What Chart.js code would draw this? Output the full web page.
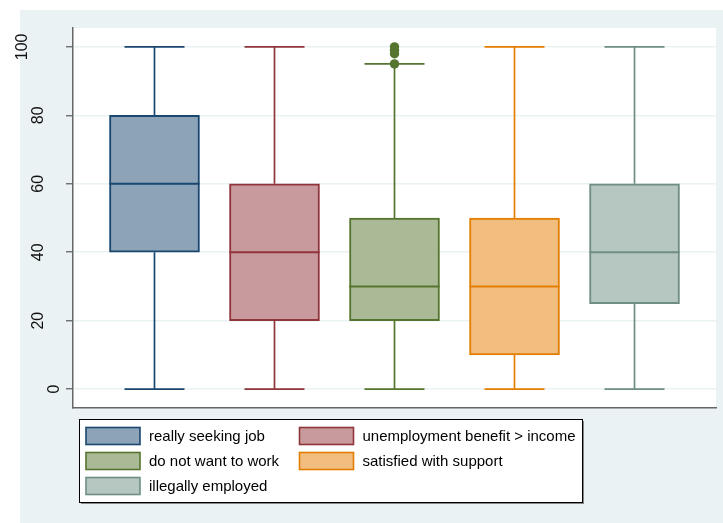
<!doctype html>
<html lang="en">
<head>
<meta charset="utf-8">
<title>Box plot</title>
<script src="https://cdn.jsdelivr.net/npm/chart.js@4"></script>
<style>
  body { margin: 0; background: #fff; }
</style>
</head>
<body>
<canvas id="myChart" width="723" height="523"></canvas>
<script>
// data
const groups = ['really seeking job', 'unemployment benefit > income', 'do not want to work',
                'satisfied with support', 'illegally employed'];
const mins = [0, 0, 0, 0, 0];
const q1s = [40, 20, 20, 10, 25];
const medians = [60, 40, 30, 30, 40];
const q3s = [80, 60, 50, 50, 60];
const maxs = [100, 100, 95, 100, 100];
const outliers = [[], [], [95, 98, 99, 100], [], []];
const yTicks = [0, 20, 40, 60, 80, 100];

const lineColors = ['#1A476F', '#90353B', '#55752F', '#E37E00', '#6E8E84'];
const fillColors = ['#8DA3B7', '#C89A9D', '#AABA97', '#F1BE80', '#B6C6C1'];
const FONT = '"Liberation Sans", Arial, sans-serif';

const datasets = groups.map(function(g, i) {
    return {
        type: 'bar',
        label: g,
        data: [{x: i + 1, y: [q1s[i], q3s[i]]}],
        backgroundColor: fillColors[i],
        borderColor: lineColors[i],
        borderWidth: 2,
        borderSkipped: false,
        barThickness: 90,
        grouped: false
    };
});
outliers.forEach(function(list, i) {
    if (!list.length) return;
    datasets.push({
        type: 'scatter',
        label: groups[i] + ' outliers',
        data: list.map(function(v) { return {x: i + 1, y: v}; }),
        backgroundColor: lineColors[i],
        borderWidth: 0,
        pointRadius: 4.7
    });
});

const stataPlugin = {
    id: 'stata',
    beforeDraw: function(chart) {
        const ctx = chart.ctx, a = chart.chartArea;
        ctx.save();
        ctx.fillStyle = '#fff';
        ctx.fillRect(0, 0, chart.width, chart.height);
        ctx.fillStyle = '#EAF2F3';
        ctx.fillRect(20, 10, chart.width - 20, chart.height - 10);
        ctx.fillStyle = '#fff';
        ctx.fillRect(a.left, a.top, a.right - a.left, a.bottom - a.top);
        ctx.restore();
    },
    afterDatasetsDraw: function(chart) {
        const ctx = chart.ctx, xs = chart.scales.x, ys = chart.scales.y;
        const boxHalf = (xs.getPixelForValue(1.375) - xs.getPixelForValue(1));
        const capHalf = (xs.getPixelForValue(1.25) - xs.getPixelForValue(1));
        ctx.save();
        groups.forEach(function(g, i) {
            const x = xs.getPixelForValue(i + 1);
            ctx.strokeStyle = lineColors[i];
            ctx.lineWidth = 1.7;
            ctx.beginPath();
            ctx.moveTo(x, ys.getPixelForValue(q3s[i]));
            ctx.lineTo(x, ys.getPixelForValue(maxs[i]));
            ctx.moveTo(x, ys.getPixelForValue(q1s[i]));
            ctx.lineTo(x, ys.getPixelForValue(mins[i]));
            ctx.moveTo(x - capHalf, ys.getPixelForValue(maxs[i]));
            ctx.lineTo(x + capHalf, ys.getPixelForValue(maxs[i]));
            ctx.moveTo(x - capHalf, ys.getPixelForValue(mins[i]));
            ctx.lineTo(x + capHalf, ys.getPixelForValue(mins[i]));
            ctx.stroke();
            ctx.lineWidth = 2;
            ctx.beginPath();
            ctx.moveTo(x - boxHalf, ys.getPixelForValue(medians[i]));
            ctx.lineTo(x + boxHalf, ys.getPixelForValue(medians[i]));
            ctx.stroke();
        });
        ctx.restore();
    },
    afterDraw: function(chart) {
        const ctx = chart.ctx, ys = chart.scales.y;
        ctx.save();
        // rotated y tick labels
        ctx.fillStyle = '#111';
        ctx.font = '16px ' + FONT;
        ctx.textAlign = 'center';
        ctx.textBaseline = 'alphabetic';
        yTicks.forEach(function(v) {
            const s = String(v);
            const bx = 58.5 - 15.6 * (s.length - 1);
            ctx.save();
            ctx.translate(bx, ys.getPixelForValue(v));
            ctx.rotate(-Math.PI / 2);
            ctx.fillText(s, 0, 0);
            ctx.restore();
        });
        // legend box
        ctx.fillStyle = '#888';
        ctx.fillRect(81, 421, 503, 83);
        ctx.fillStyle = '#fff';
        ctx.fillRect(79.5, 419.5, 503, 83);
        ctx.strokeStyle = '#000';
        ctx.lineWidth = 1;
        ctx.strokeRect(79.5, 419.5, 503, 83);
        const colX = [86, 299.5];
        const rowY = [436, 461, 486];
        ctx.font = '15px ' + FONT;
        ctx.textAlign = 'left';
        ctx.textBaseline = 'middle';
        groups.forEach(function(g, i) {
            const cx = colX[i % 2], cy = rowY[Math.floor(i / 2)];
            ctx.fillStyle = fillColors[i];
            ctx.fillRect(cx, cy - 8.5, 54, 17);
            ctx.strokeStyle = lineColors[i];
            ctx.lineWidth = 1.6;
            ctx.strokeRect(cx, cy - 8.5, 54, 17);
            ctx.fillStyle = '#000';
            ctx.fillText(g, cx + 63, cy + 1);
        });
        ctx.restore();
    }
};

new Chart(document.getElementById('myChart'), {
    data: {datasets: datasets},
    options: {
        responsive: false,
        animation: false,
        layout: {padding: {left: 20, top: 28, right: 7, bottom: 115}},
        plugins: {legend: {display: false}, tooltip: {enabled: false}},
        scales: {
            x: {
                type: 'linear',
                offset: false,
                min: 0.321,
                max: 5.679,
                ticks: {display: false},
                grid: {display: false, drawTicks: false, offset: false},
                border: {display: true, color: '#666', width: 1.5},
                afterFit: function(s) { s.height = 0; }
            },
            y: {
                min: -5.5,
                max: 105.5,
                ticks: {display: false, stepSize: 20, includeBounds: false},
                grid: {color: '#EAF2F3', lineWidth: 1.5, tickLength: 7, tickColor: '#666', tickWidth: 1.3},
                border: {display: true, color: '#666', width: 1.5},
                afterFit: function(s) { s.width = 53; }
            }
        }
    },
    plugins: [stataPlugin]
});
</script>
</body>
</html>
